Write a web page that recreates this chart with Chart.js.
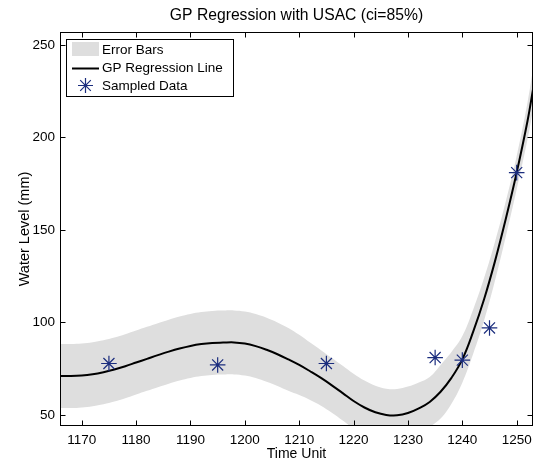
<!DOCTYPE html>
<html>
<head>
<meta charset="utf-8">
<script src="https://cdn.jsdelivr.net/npm/chart.js@4.4.1/dist/chart.umd.min.js"></script>
<style>
  html, body { margin: 0; padding: 0; background: #fff; }
  #wrap { width: 544px; height: 460px; }
</style>
</head>
<body>
<div id="wrap"><canvas id="c" width="544" height="460"></canvas></div>
<script>
// Axis ticks
const xTicks = [1170, 1180, 1190, 1200, 1210, 1220, 1230, 1240, 1250];
const yTicks = [50, 100, 150, 200, 250];

// Observed samples
const sampleX = [1175, 1195, 1215, 1235, 1240, 1245, 1250];
const sampleY = [77.8, 77.0, 77.8, 81.0, 79.6, 97.0, 181.0];

// GP posterior mean
const curveX = [1166, 1168, 1170, 1172, 1174, 1176, 1178, 1180, 1182, 1184, 1186, 1188, 1190, 1192, 1194, 1196, 1198,
                1200, 1202, 1204, 1206, 1208, 1210, 1212, 1214, 1216, 1218, 1220, 1222, 1224, 1226, 1228, 1230,
                1232, 1234, 1236, 1238, 1240, 1242, 1244, 1246, 1248, 1250, 1252, 1253];
const curveY = [71.0, 71.0, 71.3, 72.0, 73.1, 74.5, 76.3, 78.3, 80.3, 82.3, 84.2, 85.9, 87.3, 88.3, 88.9, 89.1, 89.2,
                88.6, 87.2, 85.2, 82.8, 80.0, 77.0, 73.6, 70.0, 66.0, 61.8, 57.5, 54.0, 51.4, 50.0, 49.8, 51.0,
                53.5, 57.0, 62.5, 70.0, 80.0, 95.0, 112.5, 133.0, 156.0, 181.0, 209.0, 226.0];
// Half width of the 85% confidence band
const bandHalf = [17.3, 17.3, 17.3, 17.3, 17.3, 17.3, 17.3, 17.3, 17.3, 17.3, 17.3, 17.3, 17.3, 17.3, 17.3, 17.3, 17.3,
                  17.3, 17.3, 17.3, 17.2, 17.0, 16.3, 15.5, 15.0, 14.8, 14.8, 14.8, 14.6, 14.4, 14.2, 14.2, 14.3,
                  14.0, 13.5, 14.5, 14.0, 12.6, 12.0, 11.5, 10.5, 9.5, 9.0, 10.0, 11.0];

const TITLE = 'GP Regression with USAC (ci=85%)';
const FONT = '"Liberation Sans", Arial, Helvetica, sans-serif';
const STAR = '#1b2d7e';
const BAND = '#dedede';

const pts = (xs, ys) => xs.map((x, i) => ({ x, y: ys[i] }));
const upper = curveY.map((v, i) => v + bandHalf[i]);
const lower = curveY.map((v, i) => v - bandHalf[i]);

function drawStar(ctx, cx, cy, r) {
  const d = r * Math.SQRT1_2;
  ctx.beginPath();
  ctx.moveTo(cx - r, cy); ctx.lineTo(cx + r, cy);
  ctx.moveTo(cx, cy - r); ctx.lineTo(cx, cy + r);
  ctx.moveTo(cx - d, cy - d); ctx.lineTo(cx + d, cy + d);
  ctx.moveTo(cx - d, cy + d); ctx.lineTo(cx + d, cy - d);
  ctx.stroke();
}

// Boxed axes with inward ticks on all four sides, the title over the plot, and the inset legend
const framePlugin = {
  id: 'frame',
  afterDraw(chart) {
    const { ctx, chartArea: a, scales: { x, y } } = chart;
    const L = Math.round(a.left) + 0.5, R = Math.round(a.right) - 0.5;
    const T = Math.round(a.top) + 0.5, B = Math.round(a.bottom) - 0.5;
    const tl = 5;
    ctx.save();
    ctx.strokeStyle = '#000';
    ctx.lineWidth = 1;
    ctx.beginPath();
    xTicks.forEach(v => {
      const px = Math.round(x.getPixelForValue(v)) + 0.5;
      ctx.moveTo(px, B); ctx.lineTo(px, B - tl);
      ctx.moveTo(px, T); ctx.lineTo(px, T + tl);
    });
    yTicks.forEach(v => {
      const py = Math.round(y.getPixelForValue(v)) + 0.5;
      ctx.moveTo(L, py); ctx.lineTo(L + tl, py);
      ctx.moveTo(R, py); ctx.lineTo(R - tl, py);
    });
    ctx.stroke();
    ctx.strokeRect(L, T, R - L, B - T);

    // title, centred over the plot box
    ctx.fillStyle = '#000';
    ctx.font = '15.7px ' + FONT;
    ctx.textAlign = 'center';
    ctx.textBaseline = 'middle';
    ctx.fillText(TITLE, (a.left + a.right) / 2, 16);

    // legend
    const lx = 66.5, ly = 39.5, lw = 167, lh = 57;
    ctx.fillStyle = '#fff';
    ctx.fillRect(lx, ly, lw, lh);
    ctx.strokeRect(lx, ly, lw, lh);
    ctx.fillStyle = BAND;
    ctx.fillRect(72, 42, 27, 14);
    ctx.strokeStyle = '#000';
    ctx.lineWidth = 2;
    ctx.beginPath(); ctx.moveTo(72, 68.5); ctx.lineTo(99, 68.5); ctx.stroke();
    ctx.strokeStyle = STAR;
    ctx.lineWidth = 1.2;
    drawStar(ctx, 85.5, 85.5, 7.5);
    ctx.fillStyle = '#000';
    ctx.font = '13.5px ' + FONT;
    ctx.textAlign = 'left';
    ctx.fillText('Error Bars', 102, 50);
    ctx.fillText('GP Regression Line', 102, 68.5);
    ctx.fillText('Sampled Data', 102, 86);
    ctx.restore();
  }
};

new Chart(document.getElementById('c'), {
  type: 'scatter',
  data: {
    datasets: [
      {
        label: 'Sampled Data',
        data: pts(sampleX, sampleY),
        pointStyle: 'star',
        pointRadius: 7.8,
        pointBorderWidth: 1.2,
        borderColor: STAR,
        backgroundColor: STAR,
        showLine: false,
        order: 0
      },
      {
        label: 'GP Regression Line',
        data: pts(curveX, curveY),
        showLine: true,
        borderColor: '#000',
        borderWidth: 2,
        pointRadius: 0,
        tension: 0.4,
        fill: false,
        order: 1
      },
      {
        label: 'upper',
        data: pts(curveX, upper),
        showLine: true,
        borderWidth: 0,
        borderColor: 'rgba(0,0,0,0)',
        pointRadius: 0,
        tension: 0.4,
        fill: false,
        order: 3
      },
      {
        label: 'Error Bars',
        data: pts(curveX, lower),
        showLine: true,
        borderWidth: 0,
        borderColor: 'rgba(0,0,0,0)',
        backgroundColor: BAND,
        pointRadius: 0,
        tension: 0.4,
        fill: '-1',
        order: 2
      }
    ]
  },
  options: {
    responsive: false,
    animation: false,
    devicePixelRatio: 1,
    layout: { padding: { left: 0, right: 11, top: 32, bottom: 0 } },
    plugins: {
      legend: { display: false },
      tooltip: { enabled: false },
      title: { display: false }
    },
    scales: {
      x: {
        type: 'linear',
        min: 1166,
        max: 1253,
        afterBuildTicks: s => { s.ticks = xTicks.map(v => ({ value: v })); },
        afterFit: s => { s.height = 34; },
        grid: { display: false, drawTicks: false },
        border: { display: false },
        ticks: {
          color: '#000',
          font: { family: FONT, size: 13.5 },
          padding: 6,
          maxRotation: 0,
          autoSkip: false,
          callback: v => String(v)
        },
        title: {
          display: true,
          text: 'Time Unit',
          color: '#000',
          font: { family: FONT, size: 14, lineHeight: 1 },
          padding: { top: 0, bottom: -1 }
        }
      },
      y: {
        type: 'linear',
        min: 44,
        max: 257,
        afterBuildTicks: s => { s.ticks = yTicks.map(v => ({ value: v })); },
        afterFit: s => { s.width = 60; },
        grid: { display: false, drawTicks: false },
        border: { display: false },
        ticks: {
          color: '#000',
          font: { family: FONT, size: 13.5 },
          padding: 5,
          autoSkip: false,
          callback: v => String(v)
        },
        title: {
          display: true,
          text: 'Water Level (mm)',
          color: '#000',
          font: { family: FONT, size: 14.5, lineHeight: 1 },
          padding: { top: 18, bottom: 0 }
        }
      }
    }
  },
  plugins: [framePlugin]
});
</script>
</body>
</html>
